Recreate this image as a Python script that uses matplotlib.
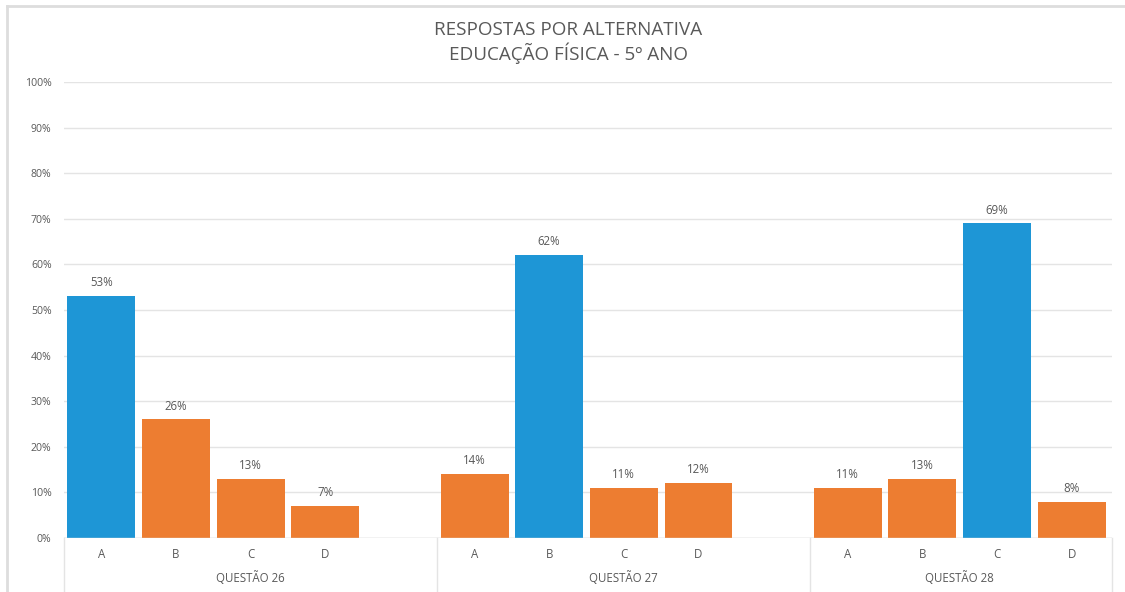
import matplotlib
matplotlib.use("Agg")
import matplotlib.pyplot as plt
from matplotlib.lines import Line2D

# ====== DATA ======
questoes = ["QUESTÃO 26", "QUESTÃO 27", "QUESTÃO 28"]
alternativas = ["A", "B", "C", "D"]
q26 = [53, 26, 13, 7]
q27 = [14, 62, 11, 12]
q28 = [11, 13, 69, 8]
gabarito = ["A", "B", "C"]  # correct answer per question
yticks = [0, 10, 20, 30, 40, 50, 60, 70, 80, 90, 100]

valores = [q26, q27, q28]

AZUL = "#1e96d6"
LARANJA = "#ed7d31"
CINZA = "#595959"
GRADE = "#e4e4e4"

plt.rcParams["font.family"] = ["Open Sans", "DejaVu Sans"]

fig = plt.figure(figsize=(11.25, 5.92), dpi=100)
W, H = 1125, 592
ax = fig.add_axes([64 / W, (H - 538) / H, (1112 - 64) / W, (538 - 82) / H])

# each question takes 5 slots (4 bars + 1 blank), last one has no blank
pos = 0
limites = [0]
for qi, vals in enumerate(valores):
    xs = [pos + i for i in range(len(alternativas))]
    cores = [AZUL if a == gabarito[qi] else LARANJA for a in alternativas]
    ax.bar(xs, vals, width=0.91, color=cores, zorder=3)
    for x, v, a in zip(xs, vals, alternativas):
        ax.text(x, v + 1.5, f"{v}%", ha="center", va="bottom", fontsize=8.3, color=CINZA)
        ax.text(x, -0.037, a, transform=ax.get_xaxis_transform(), ha="center", va="center",
                fontsize=8.3, color=CINZA)
    n = len(alternativas) + (1 if qi < len(valores) - 1 else 0)
    centro = pos + (len(alternativas) - 1) / 2 if qi == len(valores) - 1 else pos + (n - 1) / 2
    ax.text(centro, -0.088, questoes[qi], transform=ax.get_xaxis_transform(), ha="center",
            va="center", fontsize=8.3, color=CINZA)
    pos += n
    limites.append(pos)

xmax = limites[-1] - 0.5 + 0.04
ax.set_xlim(-0.5, xmax)
ax.set_ylim(0, 100)

# separators below the axis
for b in limites[:-1] + [xmax + 0.5]:
    ax.plot([b - 0.5, b - 0.5], [0, -0.12], transform=ax.get_xaxis_transform(),
            color=GRADE, lw=1, clip_on=False)

ax.set_yticks(yticks)
ax.set_yticklabels([f"{t}%" for t in yticks], fontsize=7.6, color=CINZA)
ax.tick_params(axis="y", length=0, pad=9)
ax.set_xticks([])
ax.grid(axis="y", color=GRADE, lw=1, zorder=0)
ax.axhline(0, color="#d9d9d9", lw=1, zorder=4)
for s in ax.spines.values():
    s.set_visible(False)

fig.text(568 / W, 1 - 30 / H, "RESPOSTAS POR ALTERNATIVA", ha="center", va="center",
         fontsize=13.6, color=CINZA)
fig.text(568 / W, 1 - 53 / H, "EDUCAÇÃO FÍSICA - 5º ANO", ha="center", va="center",
         fontsize=13.6, color=CINZA)

# chart border (left and top visible in the crop)
fig.add_artist(Line2D([7 / W, 7 / W], [0, 1 - 6 / H], color="#dddddd", lw=2))
fig.add_artist(Line2D([7 / W, 1], [1 - 6 / H, 1 - 6 / H], color="#dddddd", lw=2))

plt.savefig("out.png", dpi=100)
plt.close()
